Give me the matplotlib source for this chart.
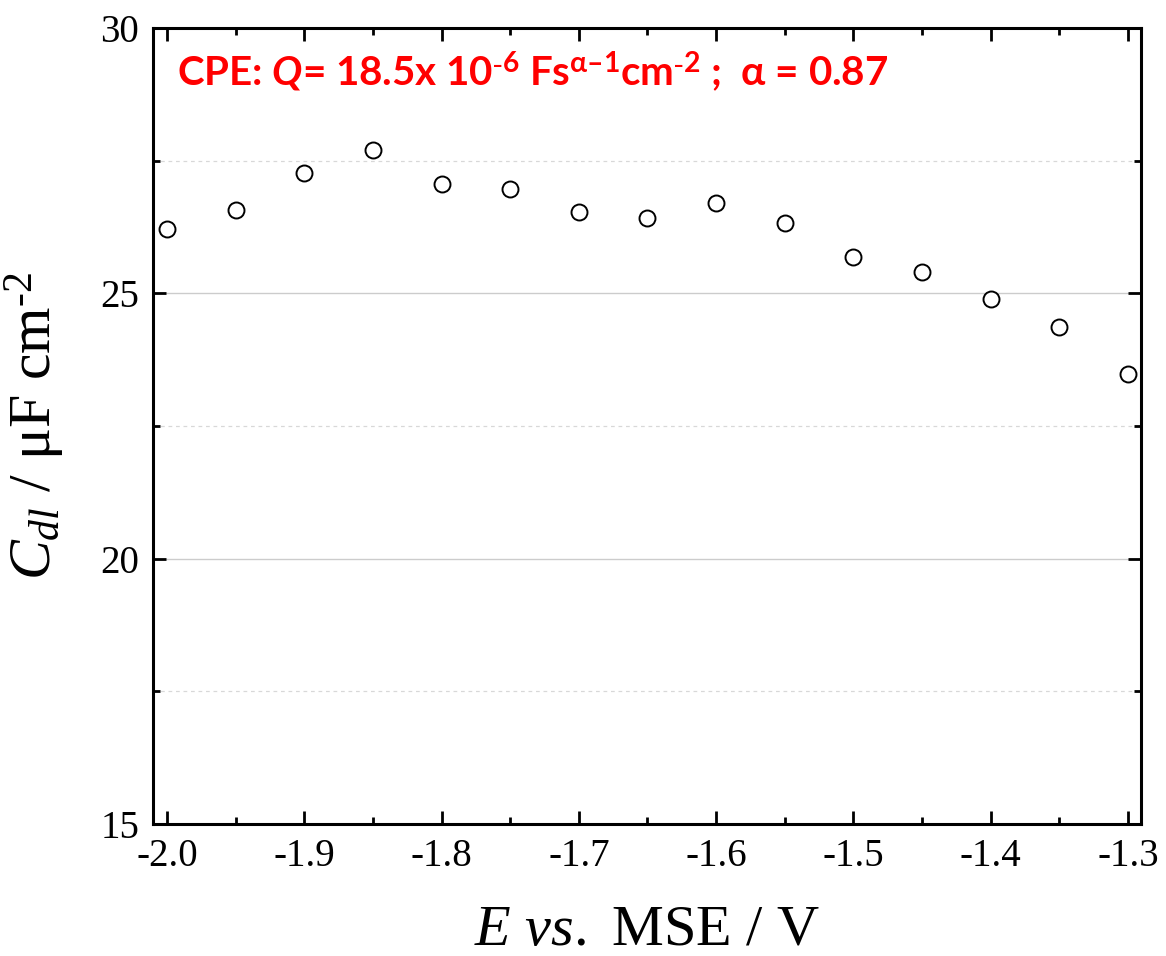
import matplotlib
matplotlib.use("Agg")
import matplotlib.pyplot as plt
from matplotlib.ticker import MultipleLocator, FormatStrFormatter

E = [-2.00, -1.95, -1.90, -1.85, -1.80, -1.75, -1.70, -1.65, -1.60, -1.55, -1.50, -1.45, -1.40, -1.35, -1.30]
Cdl = [26.21, 26.57, 27.27, 27.70, 27.06, 26.97, 26.53, 26.42, 26.70, 26.33, 25.69, 25.40, 24.89, 24.37, 23.48]

xticks = [-2.0, -1.9, -1.8, -1.7, -1.6, -1.5, -1.4, -1.3]
yticks = [15, 20, 25, 30]

plt.rcParams['mathtext.fontset'] = 'custom'
plt.rcParams['mathtext.rm'] = 'Liberation Serif'
plt.rcParams['mathtext.it'] = 'Liberation Serif:italic'
plt.rcParams['mathtext.bf'] = 'Lato:bold'
plt.rcParams['mathtext.bfit'] = 'Lato:italic:bold'

fig = plt.figure(figsize=(11.66, 9.56), dpi=100)
ax = fig.add_axes([0.1312, 0.1381, 0.8474, 0.8326])

ax.plot(E, Cdl, linestyle='none', marker='o', markersize=11.5,
        markerfacecolor='white', markeredgecolor='black', markeredgewidth=1.4, zorder=3)

ax.set_xlim(-2.0102, -1.2905)
ax.set_ylim(15, 30)
ax.set_xticks(xticks)
ax.set_yticks(yticks)
ax.xaxis.set_major_formatter(FormatStrFormatter('%.1f'))
ax.xaxis.set_minor_locator(MultipleLocator(0.05))
ax.yaxis.set_minor_locator(MultipleLocator(2.5))

ax.grid(True, axis='y', which='major', color='#cccccc', linewidth=1.0, linestyle='-')
ax.grid(True, axis='y', which='minor', color='#d8d8d8', linewidth=0.9, linestyle=(0, (3, 3)))
ax.set_axisbelow(True)

for s in ax.spines.values():
    s.set_linewidth(2.2)

ax.tick_params(which='both', direction='in', top=True, right=True, width=2.0,
               labelsize=28, pad=10)
ax.tick_params(which='major', length=9.5)
ax.tick_params(which='minor', length=5)
ax.xaxis.set_tick_params(labelfontfamily='Liberation Serif')
ax.yaxis.set_tick_params(labelfontfamily='Liberation Serif')

ax.set_xlabel(r'$E$ $vs.$ MSE / V', fontsize=42, fontfamily='Liberation Serif', labelpad=22)
ax.set_ylabel(r'$C_{dl}$ / μF cm$^{\text{-2}}$', fontsize=43, fontfamily='Liberation Serif', labelpad=24)

ax.text(0.024, 0.928,
        r'CPE: $\mathbfit{Q}$= 18.5x 10$^{\mathbf{\text{-}6}}$ Fs$^{\mathbf{α–1}}$cm$^{\mathbf{\text{-}2}}$ ;  α = 0.87',
        transform=ax.transAxes, color='#ff0000', fontsize=29, fontweight='bold',
        fontfamily='Lato', va='baseline', ha='left')

fig.savefig('out.png', dpi=100)
